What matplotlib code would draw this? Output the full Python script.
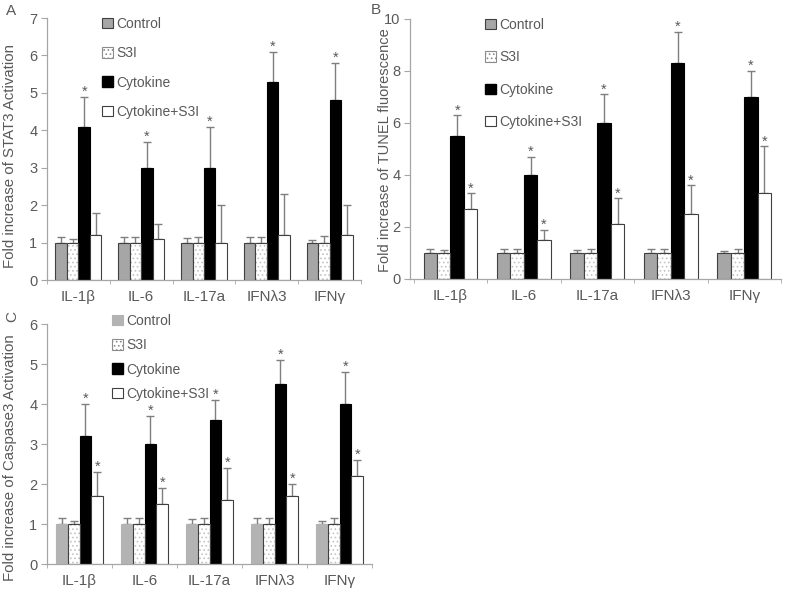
import matplotlib
matplotlib.use("Agg")
import matplotlib.pyplot as plt
from matplotlib.patches import Patch
import numpy as np

plt.rcParams["font.family"] = ["Liberation Sans", "DejaVu Sans"]
plt.rcParams["hatch.linewidth"] = 0.7

cytokines = ["IL-1\u03b2", "IL-6", "IL-17a", "IFN\u03bb3", "IFN\u03b3"]
groups = ["Control", "S3I", "Cytokine", "Cytokine+S3I"]

# panel A - STAT3 activation
stat3_control = [1.0, 1.0, 1.0, 1.0, 1.0]
stat3_control_err = [0.15, 0.15, 0.13, 0.15, 0.08]
stat3_s3i = [1.0, 1.0, 1.0, 1.0, 1.0]
stat3_s3i_err = [0.1, 0.15, 0.15, 0.15, 0.17]
stat3_cyto = [4.1, 3.0, 3.0, 5.3, 4.8]
stat3_cyto_err = [0.8, 0.7, 1.1, 0.8, 1.0]
stat3_combo = [1.2, 1.1, 1.0, 1.2, 1.2]
stat3_combo_err = [0.6, 0.4, 1.0, 1.1, 0.8]

# panel B - TUNEL fluorescence
tunel_control = [1.0, 1.0, 1.0, 1.0, 1.0]
tunel_control_err = [0.15, 0.15, 0.12, 0.15, 0.08]
tunel_s3i = [1.0, 1.0, 1.0, 1.0, 1.0]
tunel_s3i_err = [0.1, 0.15, 0.15, 0.15, 0.15]
tunel_cyto = [5.5, 4.0, 6.0, 8.3, 7.0]
tunel_cyto_err = [0.8, 0.7, 1.1, 1.2, 1.0]
tunel_combo = [2.7, 1.5, 2.1, 2.5, 3.3]
tunel_combo_err = [0.6, 0.4, 1.0, 1.1, 1.8]

# panel C - caspase3 activation
casp_control = [1.0, 1.0, 1.0, 1.0, 1.0]
casp_control_err = [0.15, 0.15, 0.12, 0.15, 0.08]
casp_s3i = [1.0, 1.0, 1.0, 1.0, 1.0]
casp_s3i_err = [0.08, 0.15, 0.15, 0.15, 0.15]
casp_cyto = [3.2, 3.0, 3.6, 4.5, 4.0]
casp_cyto_err = [0.8, 0.7, 0.5, 0.6, 0.8]
casp_combo = [1.7, 1.5, 1.6, 1.7, 2.2]
casp_combo_err = [0.6, 0.4, 0.8, 0.3, 0.4]

TXT = "#595959"
AXC = "#a6a6a6"
ERR = "#7f7f7f"
EDGE = "#404040"
DOTS = "#c4c4c4"

W, H = 787, 590
fig = plt.figure(figsize=(W / 100, H / 100), dpi=100)


def px_axes(left, right, bottom, top):
    return fig.add_axes([left / W, 1 - bottom / H, (right - left) / W, (bottom - top) / H])


def draw_panel(ax, series, errs, stars, ymax, xlim, control_color, control_edge):
    x = np.arange(len(cytokines))
    bw = 0.183
    offs = [-1.5 * bw, -0.5 * bw, 0.5 * bw, 1.5 * bw]
    for i, (vals, err) in enumerate(zip(series, errs)):
        xs = x + offs[i]
        ax.errorbar(xs, vals, yerr=[np.zeros(len(vals)), err], fmt="none",
                    ecolor=ERR, elinewidth=1.0, capsize=3, capthick=1.0, zorder=1)
        if i == 0:
            ax.bar(xs, vals, bw, color=control_color, edgecolor=control_edge,
                   linewidth=0.8, zorder=2)
        elif i == 1:
            ax.bar(xs, vals, bw, color="white", edgecolor=DOTS,
                   hatch="....", linewidth=0, zorder=2)
            ax.bar(xs, vals, bw, fill=False, edgecolor=EDGE, linewidth=0.8, zorder=3)
        elif i == 2:
            ax.bar(xs, vals, bw, color="black", edgecolor="black", linewidth=0.8, zorder=2)
        else:
            ax.bar(xs, vals, bw, color="white", edgecolor=EDGE, linewidth=0.8, zorder=2)
        if i in stars:
            for xi, v, e in zip(xs, vals, err):
                ax.annotate("*", (xi, v + e), xytext=(0, -1.5), textcoords="offset points",
                            ha="center", va="bottom", fontsize=10.5, color=TXT)
    ax.set_xlim(*xlim)
    ax.set_ylim(0, ymax)
    ax.set_xticks(x)
    ax.set_xticklabels(cytokines, fontsize=11, color=TXT)
    ax.set_xticks(np.arange(-0.5, len(cytokines)), minor=True)
    ax.tick_params(axis="x", which="major", length=0, pad=7)
    ax.tick_params(axis="x", which="minor", length=3, color=AXC, direction="out")
    ax.tick_params(axis="y", length=4, color=AXC, labelsize=10.5, labelcolor=TXT, pad=3)
    for s in ("top", "right"):
        ax.spines[s].set_visible(False)
    for s in ("left", "bottom"):
        ax.spines[s].set_color(AXC)
        ax.spines[s].set_linewidth(0.9)


def add_legend(ax, x, y, spacing, control_color, control_edge):
    handles = [
        Patch(facecolor=control_color, edgecolor=control_edge, linewidth=0.8),
        Patch(facecolor="white", edgecolor="#8c8c8c", hatch="....", linewidth=0.8),
        Patch(facecolor="black", edgecolor="black"),
        Patch(facecolor="white", edgecolor=EDGE, linewidth=0.8),
    ]
    leg = ax.legend(handles, groups, loc="upper left", bbox_to_anchor=(x / W, 1 - y / H),
                    bbox_transform=fig.transFigure, frameon=False, fontsize=10,
                    handlelength=0.8, handleheight=0.8, handletextpad=0.25,
                    labelspacing=spacing, borderpad=0, borderaxespad=0)
    for t in leg.get_texts():
        t.set_color(TXT)


# panel A
axA = px_axes(47, 361, 280, 18)
draw_panel(axA, [stat3_control, stat3_s3i, stat3_cyto, stat3_combo],
           [stat3_control_err, stat3_s3i_err, stat3_cyto_err, stat3_combo_err],
           stars=[2], ymax=7, xlim=(-0.5, 4.5), control_color="#a6a6a6", control_edge=EDGE)
add_legend(axA, 102, 17, 1.1, "#a6a6a6", EDGE)

# panel B
axB = px_axes(410, 781, 279, 19)
draw_panel(axB, [tunel_control, tunel_s3i, tunel_cyto, tunel_combo],
           [tunel_control_err, tunel_s3i_err, tunel_cyto_err, tunel_combo_err],
           stars=[2, 3], ymax=10, xlim=(-0.55, 4.45), control_color="#a6a6a6", control_edge=EDGE)
axB.set_yticks(np.arange(0, 11, 2))
add_legend(axB, 485, 18, 1.32, "#a6a6a6", EDGE)

# panel C
axC = px_axes(47, 372, 564, 324)
draw_panel(axC, [casp_control, casp_s3i, casp_cyto, casp_combo],
           [casp_control_err, casp_s3i_err, casp_cyto_err, casp_combo_err],
           stars=[2, 3], ymax=6, xlim=(-0.5, 4.5), control_color="#b3b3b3", control_edge="#b3b3b3")
add_legend(axC, 112, 314, 0.74, "#b3b3b3", "#b3b3b3")

# axis titles and panel letters
fig.text(10 / W, 1 - 156 / H, "Fold increase of STAT3 Activation", rotation=90,
         ha="center", va="center", fontsize=10.8, color=TXT)
fig.text(385 / W, 1 - 150 / H, "Fold increase of TUNEL fluorescence", rotation=90,
         ha="center", va="center", fontsize=10.5, color=TXT)
fig.text(10 / W, 1 - 458 / H, "Fold increase of Caspase3 Activation", rotation=90,
         ha="center", va="center", fontsize=10.8, color=TXT)
fig.text(11 / W, 1 - 11 / H, "A", ha="center", va="center", fontsize=11, color=TXT)
fig.text(376 / W, 1 - 10 / H, "B", ha="center", va="center", fontsize=11, color=TXT)
fig.text(12 / W, 1 - 316 / H, "C", rotation=90, ha="center", va="center",
         fontsize=11, color=TXT)

fig.savefig("out.png", dpi=100, facecolor="white")
